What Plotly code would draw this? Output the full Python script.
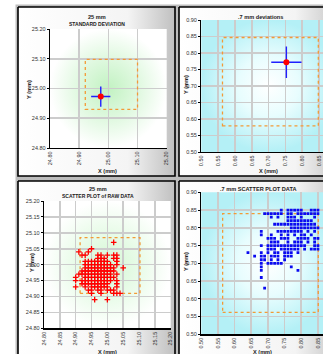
import plotly.graph_objects as go

W, H = 323, 354

# ---------------- data ----------------
# 25 mm : standard deviation summary
sd25_mean_x = [24.974]
sd25_mean_y = [24.973]
sd25_sd_x = [0.033]
sd25_sd_y = [0.034]
sd25_tol_x = [24.921, 25.100]
sd25_tol_y = [24.930, 25.098]

# .7 mm : deviation summary
dev7_mean_x = [0.753]
dev7_mean_y = [0.772]
dev7_sd_x = [0.045]
dev7_sd_y = [0.048]
dev7_tol_x = [0.563, 0.848]
dev7_tol_y = [0.579, 0.847]

# 25 mm raw scatter (rows of equal Y)
raw25_rows_y = [25.07, 25.05, 25.04, 25.03, 25.02, 25.01, 25.00, 24.99, 24.98,
                24.97, 24.96, 24.95, 24.94, 24.93, 24.92, 24.91, 24.89]
raw25_rows_x = [
    [25.02],
    [24.95],
    [24.91, 24.94],
    [24.92, 24.93, 24.97, 24.98, 25.00, 25.02, 25.03],
    [24.97, 24.98, 24.99, 25.02, 25.03],
    [24.93, 24.94, 24.95, 24.96, 24.97, 24.98, 24.99, 25.00, 25.03],
    [24.93, 24.94, 24.95, 24.96, 24.97, 24.98, 24.99, 25.00, 25.01, 25.03],
    [24.93, 24.94, 24.95, 24.96, 24.97, 24.98, 24.99, 25.00, 25.01, 25.02, 25.05],
    [24.92, 24.93, 24.94, 24.95, 24.96, 24.97, 24.98, 24.99, 25.00, 25.01, 25.02],
    [24.91, 24.92, 24.93, 24.94, 24.95, 24.96, 24.97, 24.98, 24.99, 25.00, 25.01, 25.03],
    [24.90, 24.93, 24.94, 24.95, 24.96, 24.97, 24.98, 24.99, 25.00, 25.01, 25.02],
    [24.90, 24.92, 24.93, 24.94, 24.95, 24.96, 24.97, 24.98, 24.99, 25.00, 25.01, 25.03],
    [24.92, 24.93, 24.94, 24.95, 24.96, 24.97, 24.98, 24.99, 25.00, 25.03],
    [24.90, 24.93, 24.95, 24.96, 24.97, 24.98, 24.99, 25.00, 25.03],
    [24.94, 24.95, 24.97, 24.98, 25.00, 25.01, 25.02],
    [24.95, 24.98, 25.02, 25.03, 25.04],
    [24.96, 25.00],
]
raw25_tol_x = [24.914, 25.103]
raw25_tol_y = [24.910, 25.085]

# .7 mm raw scatter (rows of equal Y)
raw7_rows_y = [0.85, 0.84, 0.83, 0.82, 0.81, 0.80, 0.79, 0.78, 0.77, 0.76,
               0.75, 0.74, 0.73, 0.72, 0.71, 0.70, 0.69, 0.68, 0.66, 0.63]
raw7_rows_x = [
    [0.74, 0.76, 0.77, 0.78, 0.79, 0.80, 0.83, 0.84, 0.85],
    [0.69, 0.70, 0.71, 0.72, 0.73, 0.74, 0.76, 0.77, 0.79, 0.80, 0.81, 0.82, 0.83, 0.84, 0.85],
    [0.71, 0.73, 0.76, 0.77, 0.78, 0.80, 0.84],
    [0.76, 0.77, 0.78, 0.79, 0.80, 0.81, 0.82, 0.83],
    [0.72, 0.73, 0.74, 0.75, 0.76, 0.77, 0.78, 0.79, 0.80, 0.81, 0.82, 0.83, 0.84],
    [0.77, 0.78, 0.79, 0.80, 0.81, 0.82, 0.83, 0.84, 0.85],
    [0.68, 0.73, 0.74, 0.75, 0.76, 0.77, 0.78, 0.79, 0.80, 0.82, 0.84],
    [0.68, 0.71, 0.74, 0.76, 0.78, 0.80, 0.81, 0.83],
    [0.70, 0.71, 0.72, 0.74, 0.75, 0.76, 0.79, 0.80, 0.81, 0.82, 0.84, 0.85],
    [0.71, 0.72, 0.73, 0.76, 0.78, 0.79, 0.80, 0.82, 0.84],
    [0.68, 0.70, 0.71, 0.72, 0.73, 0.74, 0.75, 0.76, 0.77, 0.78, 0.79, 0.80, 0.81, 0.84, 0.85],
    [0.70, 0.71, 0.72, 0.74, 0.75, 0.76, 0.77, 0.78, 0.79, 0.81, 0.83, 0.84, 0.85],
    [0.64, 0.68, 0.70, 0.72, 0.73, 0.75, 0.76, 0.77, 0.79],
    [0.66, 0.68, 0.69, 0.71, 0.72, 0.73, 0.75, 0.76, 0.77],
    [0.68, 0.69, 0.71, 0.73, 0.75],
    [0.68, 0.70, 0.71, 0.72, 0.73, 0.74],
    [0.68, 0.77],
    [0.68, 0.79],
    [0.68],
    [0.69],
]
raw7_tol_x = [0.564, 0.851]
raw7_tol_y = [0.562, 0.840]

# axis ranges / ticks
mm25_range = [24.80, 25.20]
mm7_range = [0.50, 0.90]

titles = {
    "tl": ["25 mm", "STANDARD DEVIATION"],
    "tr": [".7 mm deviations"],
    "bl": ["25 mm", "SCATTER PLOT of RAW DATA"],
    "br": [".7 mm SCATTER PLOT DATA"],
}


def expand(rows_y, rows_x):
    xs, ys = [], []
    for yv, xr in zip(rows_y, rows_x):
        for xv in xr:
            xs.append(xv)
            ys.append(yv)
    return xs, ys


raw25_x, raw25_y = expand(raw25_rows_y, raw25_rows_x)
raw7_x, raw7_y = expand(raw7_rows_y, raw7_rows_x)


# ---------------- layout helpers ----------------
def px(x):
    return x / W


def py(y):
    return 1 - y / H


FONT = "Liberation Sans, Arial, sans-serif"

fig = go.Figure()


def rect_trace(x0, y0, x1, y1, **kw):
    fig.add_trace(go.Scatter(
        x=[px(x0), px(x1), px(x1), px(x0), px(x0)],
        y=[py(y0), py(y0), py(y1), py(y1), py(y0)],
        mode="lines", fill="toself", hoverinfo="skip", showlegend=False,
        xaxis="x", yaxis="y", **kw))


# backdrop
rect_trace(15.5, 4.5, 340, 370, fillcolor="#bdbdbd", line=dict(width=0))

# panels (pixel boxes)
panels = [(18, 7, 175, 176), (179, 7, 345, 176), (18, 181, 175, 370), (179, 181, 345, 370)]
panel_grad = dict(type="horizontal",
                  colorscale=[[0, "#ffffff"], [0.7, "#f4f4f4"], [1, "#c0c0c0"]])
for (x0, y0, x1, y1) in panels:
    rect_trace(x0, y0, x1, y1, fillgradient=panel_grad,
               line=dict(color="black", width=1.6))

# plot areas in pixels (full virtual extent)
areas = {
    "tl": (50, 29, 166.7, 148),
    "tr": (201.3, 20, 335.8, 152),
    "bl": (44, 201, 170.7, 328.3),
    "br": (201.3, 192.3, 334.6, 334.3),
}
green = dict(type="radial", colorscale=[[0, "#c2f2c2"], [0.55, "#e2f9e2"], [1, "#ffffff"]])
cyan = dict(type="radial", colorscale=[[0, "#ffffff"], [0.45, "#e8fdfe"], [1, "#b4f0f6"]])
green_light = dict(type="radial", colorscale=[[0, "#d4f7d4"], [0.6, "#ecfcec"], [1, "#ffffff"]])
for key, grad in [("tl", green), ("tr", cyan), ("bl", green_light), ("br", cyan)]:
    x0, y0, x1, y1 = areas[key]
    rect_trace(x0, y0, x1, y1, fillgradient=grad, line=dict(width=0))

# ---------------- data traces ----------------
ERR_BLUE = "#1f1fff"
fig.add_trace(go.Scatter(
    x=sd25_mean_x, y=sd25_mean_y, mode="markers", xaxis="x2", yaxis="y2",
    marker=dict(color="#ff0000", size=6),
    error_x=dict(type="data", array=sd25_sd_x, color=ERR_BLUE, thickness=1.4, width=0),
    error_y=dict(type="data", array=sd25_sd_y, color=ERR_BLUE, thickness=1.4, width=0),
    showlegend=False, hoverinfo="skip"))
fig.add_trace(go.Scatter(
    x=dev7_mean_x, y=dev7_mean_y, mode="markers", xaxis="x3", yaxis="y3",
    marker=dict(color="#ff0000", size=6),
    error_x=dict(type="data", array=dev7_sd_x, color=ERR_BLUE, thickness=1.4, width=0),
    error_y=dict(type="data", array=dev7_sd_y, color=ERR_BLUE, thickness=1.4, width=0),
    showlegend=False, hoverinfo="skip"))
fig.add_trace(go.Scatter(
    x=raw25_x, y=raw25_y, mode="markers", xaxis="x4", yaxis="y4",
    marker=dict(color="#ff0000", size=4.0, symbol="cross-thin",
                line=dict(color="#ff0000", width=1.3)),
    showlegend=False, hoverinfo="skip"))
fig.add_trace(go.Scatter(
    x=raw7_x, y=raw7_y, mode="markers", xaxis="x5", yaxis="y5",
    marker=dict(color="#0a0af0", size=2.8, symbol="square", line=dict(width=0)),
    showlegend=False, hoverinfo="skip"))

# tolerance boxes
ORANGE = "#f39a36"
for ax, tx, ty in [("2", sd25_tol_x, sd25_tol_y), ("3", dev7_tol_x, dev7_tol_y),
                   ("4", raw25_tol_x, raw25_tol_y), ("5", raw7_tol_x, raw7_tol_y)]:
    fig.add_shape(type="rect", xref="x" + ax, yref="y" + ax,
                  x0=tx[0], x1=tx[1], y0=ty[0], y1=ty[1],
                  line=dict(color=ORANGE, width=1.3, dash="dot"), layer="between")

# ---------------- axes ----------------
common = dict(showgrid=True, gridcolor="#cccccc", gridwidth=1.6, zeroline=False,
              showline=True, linecolor="black", linewidth=1.3,
              tickfont=dict(size=5.5, color="#333333", family=FONT),
              tickformat=".2f", fixedrange=True, automargin=False)


def xdom(key):
    x0, _, x1, _ = areas[key]
    return [px(x0), min(1.0, px(x1))]


def ydom(key):
    _, y0, _, y1 = areas[key]
    return [max(0.0, py(y1)), py(y0)]


def xrange_clip(key, rng):
    x0, _, x1, _ = areas[key]
    if x1 <= W:
        return rng
    return [rng[0], rng[0] + (rng[1] - rng[0]) * (W - x0) / (x1 - x0)]


layout = dict(
    width=W, height=H, margin=dict(l=0, r=0, t=0, b=0),
    paper_bgcolor="white", plot_bgcolor="rgba(0,0,0,0)",
    font=dict(family=FONT),
    xaxis=dict(domain=[0, 1], range=[0, 1], visible=False, fixedrange=True),
    yaxis=dict(domain=[0, 1], range=[0, 1], visible=False, fixedrange=True),
)
spec = [("2", "tl", mm25_range, 0.1), ("3", "tr", mm7_range, 0.05),
        ("4", "bl", mm25_range, 0.05), ("5", "br", mm7_range, 0.05)]
for ax, key, rng, dt in spec:
    layout["xaxis" + ax] = dict(common, domain=xdom(key), range=xrange_clip(key, rng),
                                dtick=dt, tick0=rng[0], tickangle=-90, ticks="",
                                anchor="y" + ax)
    layout["yaxis" + ax] = dict(common, domain=ydom(key), range=rng, dtick=dt, tick0=rng[0],
                                ticks="outside", ticklen=2, tickcolor="black", tickwidth=1,
                                anchor="x" + ax)
fig.update_layout(**layout)

# ---------------- text ----------------
ann = []


def text(x, y, s, size=5.6, bold=True, angle=0):
    ann.append(dict(x=px(x), y=py(y), xref="paper", yref="paper", text=("<b>%s</b>" % s) if bold else s,
                    showarrow=False, xanchor="center", yanchor="middle", textangle=angle,
                    font=dict(size=size, color="#222222", family=FONT)))


text(97, 17, titles["tl"][0])
text(97, 24, titles["tl"][1], size=5.0)
text(260, 17, titles["tr"][0])
text(98, 189, titles["bl"][0])
text(98, 196, titles["bl"][1], size=5.0)
text(258, 189, titles["br"][0])

text(29, 90, "Y (mm)", angle=-90)
text(108, 171, "X (mm)")
text(186, 85, "Y (mm)", angle=-90)
text(268, 171, "X (mm)")
text(32, 263, "Y (mm)", angle=-90)
text(108, 352, "X (mm)")
text(186, 262, "Y (mm)", angle=-90)
text(262, 352, "X (mm)")

fig.update_layout(annotations=ann)

fig.write_html("out.html", config={"displayModeBar": False, "staticPlot": True},
               post_script="document.body.style.margin='0';document.body.style.overflow='hidden';")
